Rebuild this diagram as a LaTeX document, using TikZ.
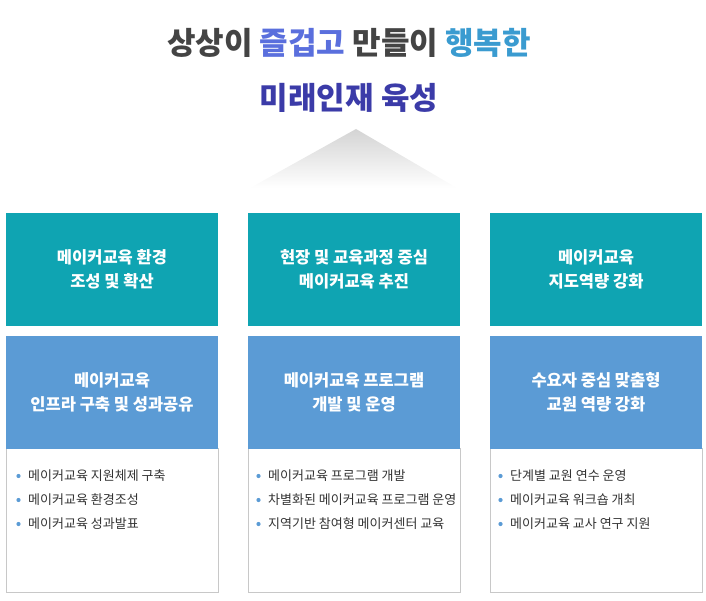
\documentclass[tikz,border=0pt]{standalone}
\usepackage{fontspec}
\setmainfont{Noto Sans CJK KR}
\definecolor{tealbox}{HTML}{0FA4B2}
\definecolor{bluebox}{HTML}{5B9BD5}
\definecolor{frame}{HTML}{C8C8C8}
\definecolor{itemtext}{HTML}{333333}
\definecolor{tdark}{HTML}{444444}
\definecolor{tblue}{HTML}{5A6FDD}
\definecolor{tcyan}{HTML}{3A9BD0}
\definecolor{tindigo}{HTML}{3B3BA8}
\tikzset{
  box/.style={minimum width=212pt, inner sep=0pt, outer sep=0pt, align=center},
  topbox/.style={box, fill=tealbox, minimum height=113.5pt, text=white, font=\bfseries\fontsize{16.5}{24}\selectfont},
  midbox/.style={box, fill=bluebox, minimum height=113.5pt, text=white, font=\bfseries\fontsize{16.5}{24}\selectfont},
  listbox/.style={box, draw=frame, line width=0.8pt, fill=white, minimum height=143.5pt},
  item/.style={anchor=west, inner sep=0pt, text=itemtext, font=\fontsize{13}{15}\selectfont},
  dot/.style={fill=bluebox},
  title/.style={inner sep=0pt, font=\bfseries\fontsize{31}{36}\selectfont}
}
\begin{document}
\begin{tikzpicture}[x=1pt,y=-1pt]
\useasboundingbox (0,0) rectangle (706,601);
% title
\node[title, text=tdark] (t1) at (349,43) {상상이 \textcolor{tblue}{즐겁고} 만들이 \textcolor{tcyan}{행복한}};
\node[title, text=tindigo] (t2) at (349,98) {미래인재 육성};
% triangle
\shade[top color=black!17, bottom color=white] (356,129) -- (457,188) -- (250,188) -- cycle;
% columns
\foreach \n/\x in {1/112, 2/354, 3/596}{
  \node[listbox] (l\n) at (\x,520.25) {};
}
\node[topbox] (a1) at (112,269.5) {메이커교육 환경\\조성 및 확산};
\node[topbox] (a2) at (354,269.5) {현장 및 교육과정 중심\\메이커교육 추진};
\node[topbox] (a3) at (596,269.5) {메이커교육\\지도역량 강화};
\node[midbox] (b1) at (112,392.5) {메이커교육\\인프라 구축 및 성과공유};
\node[midbox] (b2) at (354,392.5) {메이커교육 프로그램\\개발 및 운영};
\node[midbox] (b3) at (596,392.5) {수요자 중심 맞춤형\\교원 역량 강화};
% list items
\node[item] (i11) at (28,476) {메이커교육 지원체제 구축};
\node[item] (i12) at (28,500) {메이커교육 환경조성};
\node[item] (i13) at (28,524) {메이커교육 성과발표};
\node[item] (i21) at (268,476) {메이커교육 프로그램 개발};
\node[item] (i22) at (268,500) {차별화된 메이커교육 프로그램 운영};
\node[item] (i23) at (268,524) {지역기반 참여형 메이커센터 교육};
\node[item] (i31) at (510,476) {단계별 교원 연수 운영};
\node[item] (i32) at (510,500) {메이커교육 워크숍 개최};
\node[item] (i33) at (510,524) {메이커교육 교사 연구 지원};
\foreach \i in {i11,i12,i13,i21,i22,i23,i31,i32,i33}{
  \fill[dot] ([xshift=-9.5pt]\i.west) circle (2.1pt);
}
\end{tikzpicture}
\end{document}
